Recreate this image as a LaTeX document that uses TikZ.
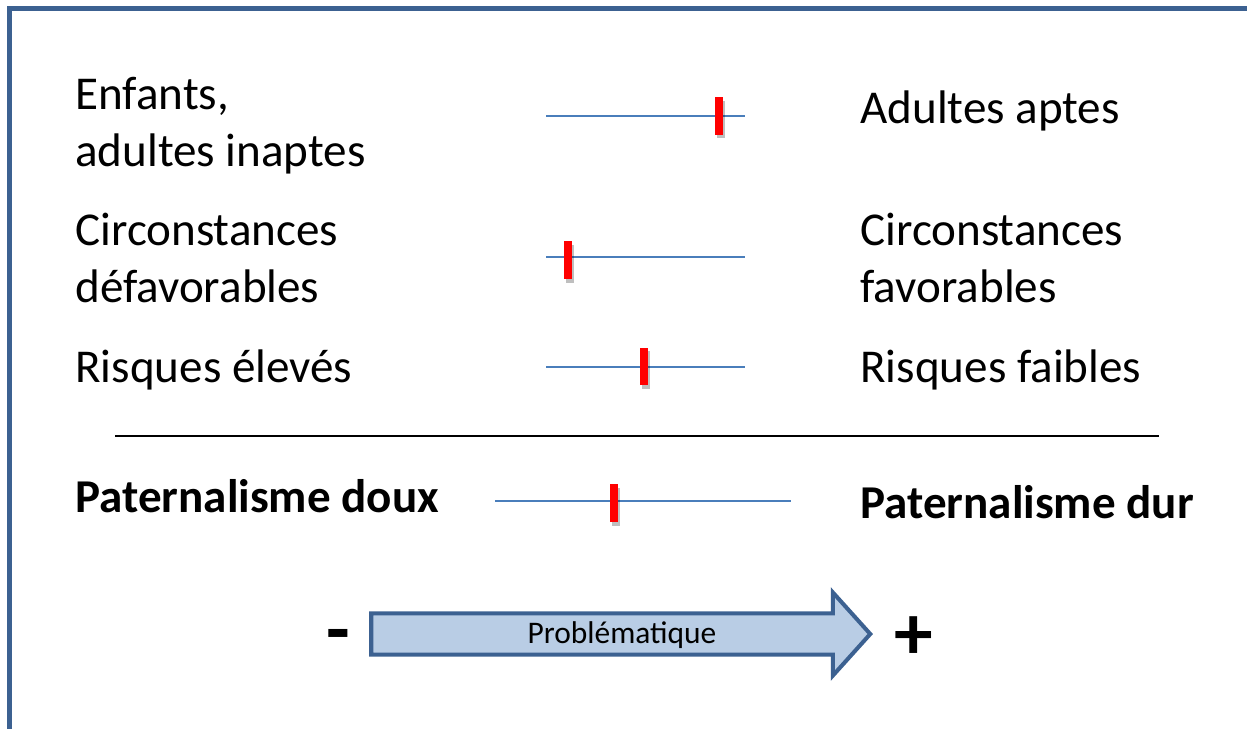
\documentclass[tikz,border=0pt]{standalone}
\usepackage{fontspec}
\setmainfont{Carlito}
\usetikzlibrary{shapes.arrows,shadows}
\definecolor{frameblue}{HTML}{3C6191}
\definecolor{scaleblue}{HTML}{4A7EBB}
\definecolor{arrowfill}{HTML}{B9CDE5}
\tikzset{
    sidetext/.style={
        anchor=base west,
        inner sep=0pt,
        align=left,
        font=\fontsize{26.8pt}{31.9pt}\selectfont
    },
    sidebold/.style={
        sidetext,
        font=\fontsize{26.8pt}{31.9pt}\selectfont\bfseries
    },
    scaleline/.style={
        draw=scaleblue,
        line width=1.2pt
    },
    cursor/.style={
        rectangle,
        fill=red,
        inner sep=0pt,
        minimum width=4.6pt,
        minimum height=21.6pt,
        drop shadow={shadow xshift=1pt, shadow yshift=-2pt, opacity=0.25, fill=black}
    },
    sign/.style={
        inner sep=0pt,
        font=\fontsize{44pt}{44pt}\selectfont\bfseries
    }
}

\begin{document}
\begin{tikzpicture}[x=0.02cm, y=-0.02cm]
          \useasboundingbox (0,0) rectangle (1247,728);
          \clip (0,0) rectangle (1247,728);
          % frame
          \draw [frameblue, line width=3.1pt] (9.5,8.5) rectangle (1300,800);
          % criteria
          \node (enfants) [sidetext] at (75,166) {Enfants,\\adultes inaptes};
          \node (aptes) [sidetext] at (860,123) {Adultes aptes};
          \node (defav) [sidetext] at (75,302) {Circonstances\\défavorables};
          \node (fav) [sidetext] at (860,302) {Circonstances\\favorables};
          \node (eleves) [sidetext] at (75,382) {Risques élevés};
          \node (faibles) [sidetext] at (860,382) {Risques faibles};
          % scales
          \coordinate (s1a) at (546,116);
          \coordinate (s1b) at (745,116);
          \coordinate (s2a) at (546,257);
          \coordinate (s2b) at (745,257);
          \coordinate (s3a) at (546,367);
          \coordinate (s3b) at (745,367);
          \coordinate (s4a) at (495,501);
          \coordinate (s4b) at (791,501);
          \draw [scaleline] (s1a) -- (s1b);
          \draw [scaleline] (s2a) -- (s2b);
          \draw [scaleline] (s3a) -- (s3b);
          \draw [scaleline] (s4a) -- (s4b);
          \node (c1) [cursor] at (719,116) {};
          \node (c2) [cursor] at (568,260) {};
          \node (c3) [cursor] at (644,366.5) {};
          \node (c4) [cursor] at (614,503) {};
          % separator
          \coordinate (sepa) at (115,436);
          \coordinate (sepb) at (1159,436);
          \draw [line width=1.1pt] (sepa) -- (sepb);
          % result
          \node (doux) [sidebold] at (75,512) {Paternalisme doux};
          \node (dur) [sidebold] at (860,518) {Paternalisme dur};
          % arrow
          \node (probl) [single arrow, draw=frameblue, fill=arrowfill, line width=2.3pt,
                minimum height=499*0.02cm, minimum width=80*0.02cm,
                single arrow head extend=21*0.02cm, single arrow tip angle=96,
                inner xsep=2pt, inner ysep=2.8pt, text height=12pt, text depth=3.5pt] at (611.5,634) {};
          \node (probltext) [inner sep=0pt, font=\fontsize{17.9pt}{20pt}\selectfont] at (622,635) {Problématique};
          \node (moins) [sign] at (338,642) {-};
          \node (plus) [sign] at (914,638) {+};
        \end{tikzpicture}
\end{document}
